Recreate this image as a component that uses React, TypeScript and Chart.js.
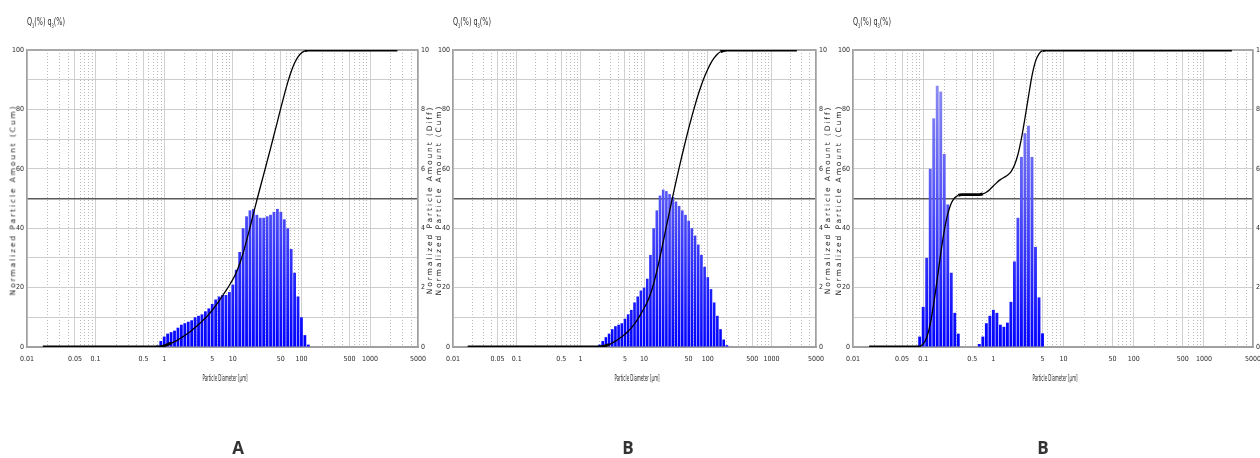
import React, { useEffect, useRef } from "react";
import { Chart, registerables } from "chart.js";

Chart.register(...registerables);

// Particle diameter of each size class (µm)
const binDiameters = [
  0.0794, 0.0891, 0.1, 0.1122, 0.1259, 0.1413, 0.1585, 0.1778, 0.1995, 0.2239,
  0.2512, 0.2818, 0.3162, 0.3548, 0.3981, 0.4467, 0.5012, 0.5623, 0.631, 0.7079,
  0.7943, 0.8913, 1, 1.122, 1.259, 1.413, 1.585, 1.778, 1.995, 2.239,
  2.512, 2.818, 3.162, 3.548, 3.981, 4.467, 5.012, 5.623, 6.31, 7.079,
  7.943, 8.913, 10, 11.22, 12.59, 14.13, 15.85, 17.78, 19.95, 22.39,
  25.12, 28.18, 31.62, 35.48, 39.81, 44.67, 50.12, 56.23, 63.1, 70.79,
  79.43, 89.13, 100, 112.2, 125.9, 141.3, 158.5, 177.8, 199.5,
];

// q3 (%) per size class
const q3PanelA = [
  0, 0, 0, 0, 0, 0, 0, 0, 0, 0, 0, 0, 0, 0, 0, 0, 0, 0, 0, 0,
  0.05, 0.2, 0.35, 0.45, 0.5, 0.55, 0.65, 0.75, 0.8, 0.85,
  0.9, 1.0, 1.05, 1.1, 1.2, 1.3, 1.45, 1.6, 1.7, 1.75,
  1.75, 1.85, 2.1, 2.6, 3.2, 4.0, 4.4, 4.6, 4.65, 4.45,
  4.35, 4.35, 4.4, 4.45, 4.55, 4.65, 4.55, 4.3, 4.0, 3.3,
  2.5, 1.7, 1.0, 0.4, 0.08,
  0, 0, 0, 0,
];
const q3PanelB = [
  0, 0, 0, 0, 0, 0, 0, 0, 0, 0, 0, 0, 0, 0, 0, 0, 0, 0, 0, 0,
  0, 0, 0, 0, 0, 0, 0, 0,
  0.08, 0.2, 0.33, 0.45, 0.6, 0.7, 0.75, 0.8, 0.95, 1.1,
  1.25, 1.5, 1.7, 1.9, 2.0, 2.3, 3.1, 4.0, 4.6, 5.1,
  5.3, 5.25, 5.15, 5.05, 4.9, 4.75, 4.6, 4.45, 4.25, 4.0,
  3.75, 3.45, 3.1, 2.7, 2.35, 1.95, 1.5, 1.05, 0.6, 0.25, 0.06,
];
const q3PanelC = [
  0,
  0.35, 1.35, 3.0, 6.0, 7.7, 8.8, 8.6, 6.5, 4.8, 2.5,
  1.15, 0.45,
  0, 0, 0, 0, 0,
  0.1, 0.35, 0.8, 1.05, 1.25, 1.15, 0.75, 0.68, 0.82, 1.52,
  2.88, 4.35, 6.4, 7.2, 7.45, 6.4, 3.37, 1.67, 0.46,
  0, 0, 0, 0, 0, 0, 0, 0, 0, 0, 0, 0, 0, 0, 0, 0,
  0, 0, 0, 0, 0, 0, 0, 0, 0, 0, 0, 0, 0, 0, 0, 0,
];

// Q3 (%) cumulative curve read at the same diameters
const cumPanelA = [
  0, 0, 0, 0, 0, 0, 0, 0, 0, 0, 0, 0, 0, 0, 0, 0, 0, 0, 0, 0,
  0.03, 0.15, 0.42, 0.82, 1.3, 1.82, 2.42, 3.11, 3.89, 4.71,
  5.58, 6.53, 7.55, 8.62, 9.76, 11.0, 12.38, 13.9, 15.54, 17.26,
  19.0, 20.8, 22.76, 25.1, 28.0, 31.6, 35.8, 40.2, 44.9, 49.4,
  53.8, 58.1, 62.5, 66.9, 71.4, 75.9, 80.5, 84.9, 89.1, 92.7,
  95.6, 97.7, 99.0, 99.7, 99.96,
  100, 100, 100, 100,
];
const cumPanelB = [
  0, 0, 0, 0, 0, 0, 0, 0, 0, 0, 0, 0, 0, 0, 0, 0, 0, 0, 0, 0,
  0, 0, 0, 0, 0, 0, 0, 0,
  0.04, 0.18, 0.44, 0.82, 1.34, 1.97, 2.68, 3.45, 4.3, 5.31,
  6.46, 7.81, 9.38, 11.15, 13.07, 15.18, 17.83, 21.31, 25.53, 30.29,
  35.4, 40.58, 45.68, 50.69, 55.57, 60.31, 64.9, 69.34, 73.61, 77.66,
  81.46, 85.0, 88.21, 91.06, 93.54, 95.65, 97.34, 98.59, 99.4, 99.82, 99.97,
];
const cumPanelC = [
  0,
  0.18, 1.03, 3.2, 7.7, 14.6, 22.8, 31.5, 39.1, 44.8, 48.4,
  50.25, 51.05,
  51.28, 51.28, 51.28, 51.28, 51.28,
  51.33, 51.55, 52.13, 53.06, 54.21, 55.41, 56.36, 57.08, 57.83, 59.0,
  61.2, 64.82, 70.21, 77.02, 84.35, 91.29, 96.18, 98.7, 99.77,
  100, 100, 100, 100, 100, 100, 100, 100, 100, 100, 100, 100, 100, 100, 100, 100,
  100, 100, 100, 100, 100, 100, 100, 100, 100, 100, 100, 100, 100, 100, 100, 100,
];

// measuring range of the cumulative curve (µm)
const curveStartDiameter = 0.017;
const curveEndDiameter = 2500;

const xTickValues = [0.01, 0.05, 0.1, 0.5, 1, 5, 10, 50, 100, 500, 1000, 5000];
const xTickLabels = ["0.01", "0.05", "0.1", "0.5", "1", "5", "10", "50", "100", "500", "1000", "5000"];
const minorMultipliers = [2, 3, 4, 6, 7, 8, 9];
const panelLetters = ["A", "B", "B"];

const minorGridValues: number[] = [];
for (let e = -2; e <= 3; e++) {
  for (const m of minorMultipliers) {
    const v = m * Math.pow(10, e);
    if (v < 5000) minorGridValues.push(v);
  }
}

const NARROW = "'Liberation Sans Narrow', 'DejaVu Sans Condensed', 'Arial Narrow', sans-serif";
const TICK_FONT = { family: NARROW, size: 7 };
const TICK_COLOR = "#2a2a2a";

const PLOT_TOP = 50;
const PLOT_BOTTOM = 347;
const CANVAS_H = 400;
const LEFT_BOX = 27;
const RIGHT_BOX = 22;

type PanelProps = { plotLeft: number; plotRight: number; q: number[]; cum: number[] };

function PsdChart({ plotLeft, plotRight, q, cum }: PanelProps) {
  const ref = useRef<HTMLCanvasElement | null>(null);
  const width = plotRight - plotLeft + LEFT_BOX + RIGHT_BOX;

  useEffect(() => {
    if (!ref.current) return;
    const barData = binDiameters.map((d, i) => ({ x: d, y: q[i] }));
    const lineData = [
      { x: curveStartDiameter, y: 0 },
      ...binDiameters.map((d, i) => ({ x: d, y: cum[i] })),
      { x: curveEndDiameter, y: 100 },
    ];
    const chart = new Chart(ref.current, {
      type: "bar",
      data: {
        datasets: [
          {
            type: "line",
            data: lineData,
            xAxisID: "x",
            yAxisID: "y",
            borderColor: "#000000",
            borderWidth: 1.3,
            pointRadius: 0,
            cubicInterpolationMode: "monotone",
            segment: {
              borderWidth: (ctx: any) =>
                Math.abs(ctx.p1.parsed.y - ctx.p0.parsed.y) < 0.5 ? 2.8 : 1.3,
            },
            order: 0,
          } as any,
          {
            type: "bar",
            data: barData,
            xAxisID: "x",
            yAxisID: "y1",
            borderWidth: 0,
            barPercentage: 0.82,
            categoryPercentage: 1,
            backgroundColor: (ctx: any) => {
              const c = ctx.chart;
              const area = c.chartArea;
              if (!area) return "#2a2af5";
              const g = c.ctx.createLinearGradient(0, area.top, 0, area.bottom);
              g.addColorStop(0, "#9c9cf0");
              g.addColorStop(0.5, "#5454f6");
              g.addColorStop(1, "#0000ff");
              return g;
            },
            order: 1,
          } as any,
        ],
      },
      options: {
        responsive: false,
        animation: false,
        events: [],
        layout: { padding: { top: PLOT_TOP, left: 0, right: 0, bottom: 0 } },
        plugins: { legend: { display: false }, tooltip: { enabled: false } },
        scales: {
          x: {
            type: "logarithmic",
            position: "bottom",
            min: 0.01,
            max: 5000,
            bounds: "data",
            offset: false,
            afterBuildTicks: (s: any) => {
              s.ticks = xTickValues.map((v) => ({ value: v }));
            },
            afterFit: (s: any) => {
              s.height = CANVAS_H - PLOT_BOTTOM;
            },
            ticks: {
              autoSkip: false,
              maxRotation: 0,
              minRotation: 0,
              padding: 8,
              font: TICK_FONT,
              color: TICK_COLOR,
              callback: (_v: any, i: number) => xTickLabels[i] ?? "",
            },
            grid: { offset: false, color: "#d0d0d0", lineWidth: 1, drawTicks: false },
            border: { color: "#a0a0a0", width: 2 },
          },
          xm: {
            type: "logarithmic",
            position: "bottom",
            min: 0.01,
            max: 5000,
            bounds: "data",
            offset: false,
            afterBuildTicks: (s: any) => {
              s.ticks = minorGridValues.map((v) => ({ value: v }));
            },
            afterFit: (s: any) => {
              s.height = 0;
            },
            ticks: { display: false },
            grid: { offset: false, color: "#bcbcbc", lineWidth: 1, drawTicks: false },
            border: { display: false, dash: [1, 2] },
          },
          y: {
            type: "linear",
            position: "left",
            min: 0,
            max: 100,
            afterFit: (s: any) => {
              s.width = LEFT_BOX;
            },
            ticks: {
              stepSize: 10,
              padding: 3,
              font: TICK_FONT,
              color: TICK_COLOR,
              callback: (v: any) => (Math.round(v) % 20 === 0 ? String(Math.round(v)) : ""),
            },
            grid: {
              drawTicks: false,
              color: (ctx: any) => {
                const v = ctx.tick ? ctx.tick.value : 0;
                if (v === 50) return "#5a5a5a";
                if (v === 100) return "#a8a8a8";
                return "#cdcdcd";
              },
              lineWidth: (ctx: any) => {
                const v = ctx.tick ? ctx.tick.value : 0;
                if (v === 50) return 1.4;
                if (v === 100) return 2;
                return 1;
              },
            },
            border: { color: "#a0a0a0", width: 1.5 },
          },
          y1: {
            type: "linear",
            position: "right",
            min: 0,
            max: 10,
            afterFit: (s: any) => {
              s.width = RIGHT_BOX;
            },
            ticks: {
              stepSize: 2,
              padding: 3,
              font: TICK_FONT,
              color: TICK_COLOR,
            },
            grid: { drawOnChartArea: false, drawTicks: false },
            border: { color: "#a0a0a0", width: 1.5 },
          },
        },
      } as any,
    });
    return () => chart.destroy();
  }, []);

  return (
    <canvas
      ref={ref}
      width={width}
      height={CANVAS_H}
      style={{ position: "absolute", left: plotLeft - LEFT_BOX, top: 0, width, height: CANVAS_H }}
    />
  );
}

const abs: React.CSSProperties = { position: "absolute", whiteSpace: "nowrap", lineHeight: 1 };

function VTitle({ x, text }: { x: number; text: string }) {
  return (
    <div
      style={{
        ...abs,
        left: x,
        top: 200,
        transform: "translate(-50%, -50%) rotate(-90deg)",
        fontFamily: "'DejaVu Sans', sans-serif",
        fontSize: 7.5,
        letterSpacing: "1.9px",
        color: "#1e1e1e",
      }}
    >
      {text}
    </div>
  );
}

function XTitle({ x }: { x: number }) {
  return (
    <div
      style={{
        ...abs,
        left: x,
        top: 379,
        transform: "translate(-50%, -50%) scaleX(0.55)",
        fontFamily: NARROW,
        fontSize: 8,
        color: "#2a2a2a",
      }}
    >
      Particle Diameter [µm]
    </div>
  );
}

function QLabel({ x }: { x: number }) {
  return (
    <div
      style={{
        ...abs,
        left: x,
        top: 16,
        transform: "scaleX(0.65)",
        transformOrigin: "left top",
        fontFamily: NARROW,
        fontSize: 11,
        color: "#2a2a2a",
      }}
    >
      Q<sub style={{ fontSize: 6 }}>3</sub>(%) q<sub style={{ fontSize: 6 }}>3</sub>(%)
    </div>
  );
}

const panels = [
  { plotLeft: 27, plotRight: 418, q: q3PanelA, cum: cumPanelA },
  { plotLeft: 453, plotRight: 816, q: q3PanelB, cum: cumPanelB },
  { plotLeft: 853, plotRight: 1253, q: q3PanelC, cum: cumPanelC },
];

export default function App() {
  return (
    <div
      style={{
        position: "fixed",
        left: 0,
        top: 0,
        width: 1260,
        height: 458,
        background: "#ffffff",
        overflow: "hidden",
      }}
    >
      {panels.map((p, i) => (
        <PsdChart key={i} plotLeft={p.plotLeft} plotRight={p.plotRight} q={p.q} cum={p.cum} />
      ))}
      {panels.map((p, i) => (
        <React.Fragment key={"t" + i}>
          <QLabel x={p.plotLeft} />
          <VTitle x={p.plotLeft - 14} text="Normalized Particle Amount (Cum)" />
          <VTitle x={p.plotRight + 12} text="Normalized Particle Amount (Diff)" />
          <XTitle x={(p.plotLeft + p.plotRight) / 2 + 2} />
          <div
            style={{
              ...abs,
              left: [238, 628, 1043][i],
              top: 447,
              transform: "translate(-50%, -50%)",
              fontFamily: "'Open Sans', sans-serif",
              fontWeight: 700,
              fontSize: 17,
              color: "#333333",
            }}
          >
            {panelLetters[i]}
          </div>
        </React.Fragment>
      ))}
    </div>
  );
}
